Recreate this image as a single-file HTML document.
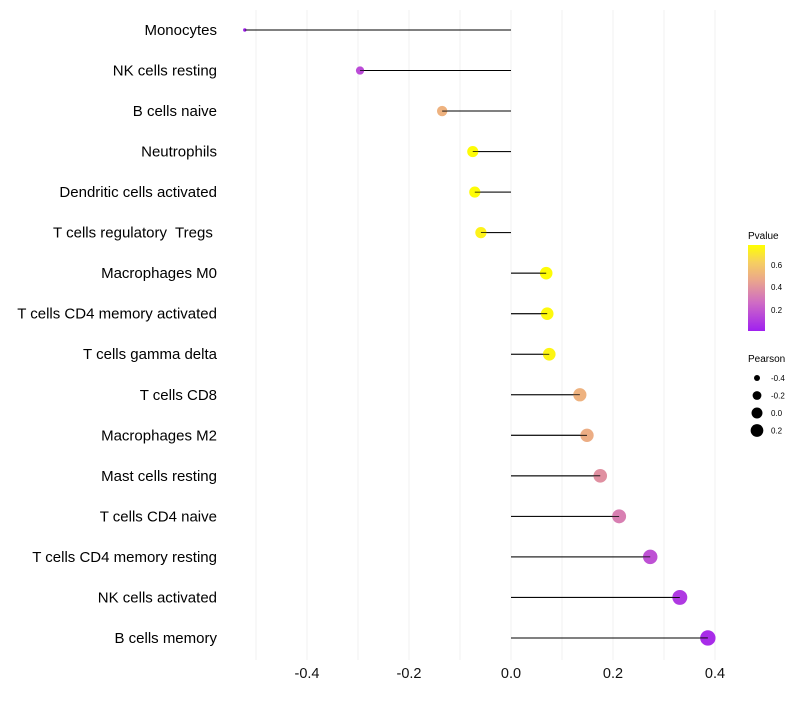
<!DOCTYPE html>
<html><head><meta charset="utf-8"><style>
body{margin:0;background:#fff;font-family:"Liberation Sans",sans-serif}
svg text{font-family:"Liberation Sans",sans-serif;white-space:pre}
</style></head><body>
<svg id="chart" width="800" height="700">
<defs><linearGradient id="pg" x1="0" y1="1" x2="0" y2="0">
<stop offset="0" stop-color="#a020f0"/><stop offset="0.33" stop-color="#cf6cc4"/><stop offset="0.6" stop-color="#eba88a"/><stop offset="0.8" stop-color="#f6cf60"/><stop offset="1" stop-color="#ffff00"/></linearGradient></defs>
<g id="grid"></g>
<g id="marks"></g>
<g id="legend">
<text x="748" y="239" font-size="10" fill="#000">Pvalue</text>
<rect x="748" y="245" width="17" height="86" fill="url(#pg)"/>
<text x="771" y="268" font-size="8">0.6</text>
<text x="771" y="290" font-size="8">0.4</text>
<text x="771" y="313" font-size="8">0.2</text>
<text x="748" y="362" font-size="10">Pearson</text>
</g>
</svg>
<script>
const categories=["Monocytes","NK cells resting","B cells naive","Neutrophils","Dendritic cells activated","T cells regulatory  Tregs ","Macrophages M0","T cells CD4 memory activated","T cells gamma delta","T cells CD8","Macrophages M2","Mast cells resting","T cells CD4 naive","T cells CD4 memory resting","NK cells activated","B cells memory"];
const pearson=[-0.522,-0.296,-0.135,-0.075,-0.071,-0.059,0.069,0.071,0.075,0.135,0.149,0.175,0.212,0.273,0.331,0.386];
const pvalue=[0.02,0.15,0.5,0.75,0.75,0.72,0.75,0.74,0.73,0.5,0.48,0.38,0.32,0.17,0.09,0.05];
const xTicks=[-0.4,-0.2,0.0,0.2,0.4];
const sizeLegend=[-0.4,-0.2,0.0,0.2];
const NS="http://www.w3.org/2000/svg";
const X=v=>511+v*510;
const Y=i=>30+i*40.53;
const R=v=>Math.sqrt(3+62*(v+0.522));
const stops=[[0,[160,32,240]],[0.33,[207,108,196]],[0.6,[235,168,138]],[0.8,[246,207,96]],[1,[255,255,0]]];
function col(p){let t=(p-0.01)/0.75;t=Math.max(0,Math.min(1,t));for(let k=1;k<stops.length;k++){if(t<=stops[k][0]){const a=stops[k-1],b=stops[k];const f=(t-a[0])/(b[0]-a[0]);return "rgb("+a[1].map((c,j)=>Math.round(c+(b[1][j]-c)*f)).join(",")+")";}}return "rgb(255,255,0)";}
function mk(tag,attrs,parent){const e=document.createElementNS(NS,tag);for(const k in attrs)e.setAttribute(k,attrs[k]);parent.appendChild(e);return e;}
const grid=document.getElementById('grid'),marks=document.getElementById('marks'),leg=document.getElementById('legend');
for(let v=-0.5;v<=0.41;v+=0.1){const g=mk('line',{x1:X(v),x2:X(v),y1:10,y2:660,stroke:'#f2f2f2','stroke-width':1},grid);

}
xTicks.forEach(v=>{const t=mk('text',{x:X(v),y:678,'font-size':14.5,'text-anchor':'middle',fill:'#111'},grid);t.textContent=v.toFixed(1);

});
categories.forEach((c,i)=>{
const t=mk('text',{x:217,y:Y(i)+5,'font-size':15,'text-anchor':'end',fill:'#000'},marks);t.textContent=c;
t.setAttribute('xml:space','preserve');


const l=mk('line',{x1:X(0),x2:X(pearson[i]),y1:Y(i),y2:Y(i),stroke:'#000','stroke-width':1},marks);


const d=mk('circle',{cx:X(pearson[i]),cy:Y(i),r:R(pearson[i]),fill:col(pvalue[i])},marks);


const l2=mk('line',{x1:X(0),x2:X(pearson[i]),y1:Y(i),y2:Y(i),stroke:'#000','stroke-width':0.8},marks);


});
sizeLegend.forEach((v,k)=>{const y=378+k*17.5;
const c=mk('circle',{cx:757,cy:y,r:R(v)*0.92,fill:'#000'},leg);


const t=mk('text',{x:771,y:y+3,'font-size':8},leg);t.textContent=v.toFixed(1);

});
</script>
</body></html>
